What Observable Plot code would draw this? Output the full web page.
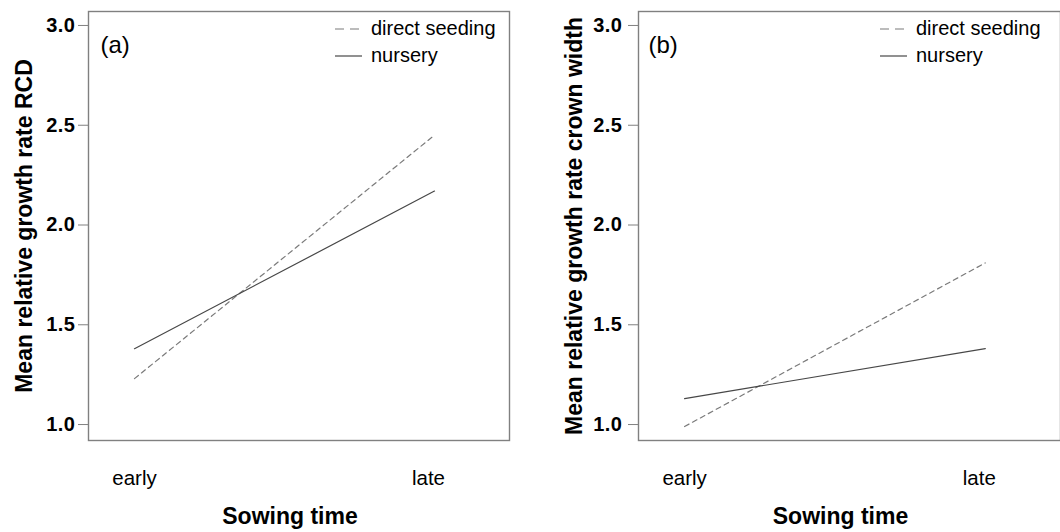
<!DOCTYPE html>
<html>
<head>
<meta charset="utf-8">
<script src="https://cdn.jsdelivr.net/npm/d3@7"></script>
<script src="https://cdn.jsdelivr.net/npm/@observablehq/plot@0.6"></script>
<style>
  body { margin: 0; background: #fff; }
  #chart { display: flex; width: 1060px; height: 532px; overflow: hidden; }
  #chart svg { flex: none; }
  #chart g[aria-label="y-axis tick label"] { font-size: 20px !important; font-weight: bold; letter-spacing: 0.5px; }
</style>
</head>
<body>
<div id="chart"></div>
<script>
// Sowing time categories and establishment methods
const sowingTimes = ["early", "late"];
const methods = ["direct seeding", "nursery"];

// (a) mean relative growth rate of root collar diameter (RCD)
const rcdDirect = [1.23, 2.45];
const rcdNursery = [1.38, 2.17];

// (b) mean relative growth rate of crown width
const crownDirect = [0.99, 1.81];
const crownNursery = [1.13, 1.38];

const yTicks = [1.0, 1.5, 2.0, 2.5, 3.0];

const FONT = "'Liberation Sans', Arial, Helvetica, sans-serif";
const FRAME = "#808080";
const SOLID = "#474747";
const DASHED = "#7a7a7a";

function rowsFor(direct, nursery) {
  const rows = [];
  sowingTimes.forEach((t, i) => rows.push({time: t, method: methods[0], value: direct[i]}));
  sowingTimes.forEach((t, i) => rows.push({time: t, method: methods[1], value: nursery[i]}));
  return rows;
}

function panel({tag, ylabel, direct, nursery, width, marginLeft, marginRight, tickPadding, tagDx, legendX}) {
  const rows = rowsFor(direct, nursery);
  const svg = Plot.plot({
    width,
    height: 532,
    marginLeft,
    marginRight,
    marginTop: 11,
    marginBottom: 92,
    style: {fontFamily: FONT, color: "#000", background: "#fff", overflow: "visible"},
    x: {type: "point", domain: sowingTimes, padding: 0.2017, align: 0.38, round: false, axis: null},
    y: {domain: [0.92, 3.07], axis: null},
    marks: [
      Plot.frame({stroke: FRAME, strokeWidth: 1.4}),
      Plot.axisY(yTicks, {
        tickSize: 10, tickPadding, tickFormat: d3.format(".1f"),
        fontSize: 20, fontWeight: "bold", stroke: FRAME, fill: "#000", label: null
      }),
      // growth-rate lines per establishment method
      Plot.line(rows.filter(d => d.method === "direct seeding"), {
        x: "time", y: "value", stroke: DASHED, strokeWidth: 1.2, strokeDasharray: "5,4"
      }),
      Plot.line(rows.filter(d => d.method === "nursery"), {
        x: "time", y: "value", stroke: SOLID, strokeWidth: 1.2
      }),
      // category labels below the frame
      Plot.text(sowingTimes.filter(d => d === "early"), {
        x: d => d, frameAnchor: "bottom", lineAnchor: "top", dy: 30, fontSize: 20.5
      }),
      Plot.text(sowingTimes.filter(d => d === "late"), {
        x: d => d, frameAnchor: "bottom", lineAnchor: "top", dy: 30, dx: -6, fontSize: 20.5
      }),
      Plot.text(["Sowing time"], {
        frameAnchor: "bottom", lineAnchor: "top", dy: 67, dx: -9, fontSize: 23, fontWeight: "bold"
      }),
      Plot.text([ylabel], {
        frameAnchor: "left", textAnchor: "middle", lineAnchor: "middle",
        rotate: -90, dx: -64, fontSize: 23, fontWeight: "bold"
      }),
      Plot.text([tag], {
        frameAnchor: "top-left", textAnchor: "start", lineAnchor: "middle", dx: tagDx, dy: 34, fontSize: 24
      })
    ]
  });

  // legend in the top-right corner of the frame
  const lg = d3.select(svg).append("g")
    .attr("font-family", FONT).attr("font-size", 20).attr("text-anchor", "start");
  const items = [
    {label: methods[0], y: 29, stroke: DASHED, dash: "9,6"},
    {label: methods[1], y: 56, stroke: SOLID, dash: null}
  ];
  for (const it of items) {
    lg.append("line")
      .attr("x1", legendX).attr("x2", legendX + 27)
      .attr("y1", it.y).attr("y2", it.y)
      .attr("stroke", it.stroke).attr("stroke-width", 1.2)
      .attr("stroke-dasharray", it.dash);
    lg.append("text")
      .attr("x", legendX + 36).attr("y", it.y).attr("dy", "0.32em")
      .attr("fill", "#000").text(it.label);
  }
  return svg;
}

const chart = document.getElementById("chart");
chart.append(panel({
  tag: "(a)", ylabel: "Mean relative growth rate RCD",
  direct: rcdDirect, nursery: rcdNursery,
  width: 530, marginLeft: 88, marginRight: 21, tickPadding: 3, tagDx: 12, legendX: 335
}));
chart.append(panel({
  tag: "(b)", ylabel: "Mean relative growth rate crown width",
  direct: crownDirect, nursery: crownNursery,
  width: 530, marginLeft: 108, marginRight: 0, tickPadding: 6, tagDx: 10, legendX: 350
}));
</script>
</body>
</html>
